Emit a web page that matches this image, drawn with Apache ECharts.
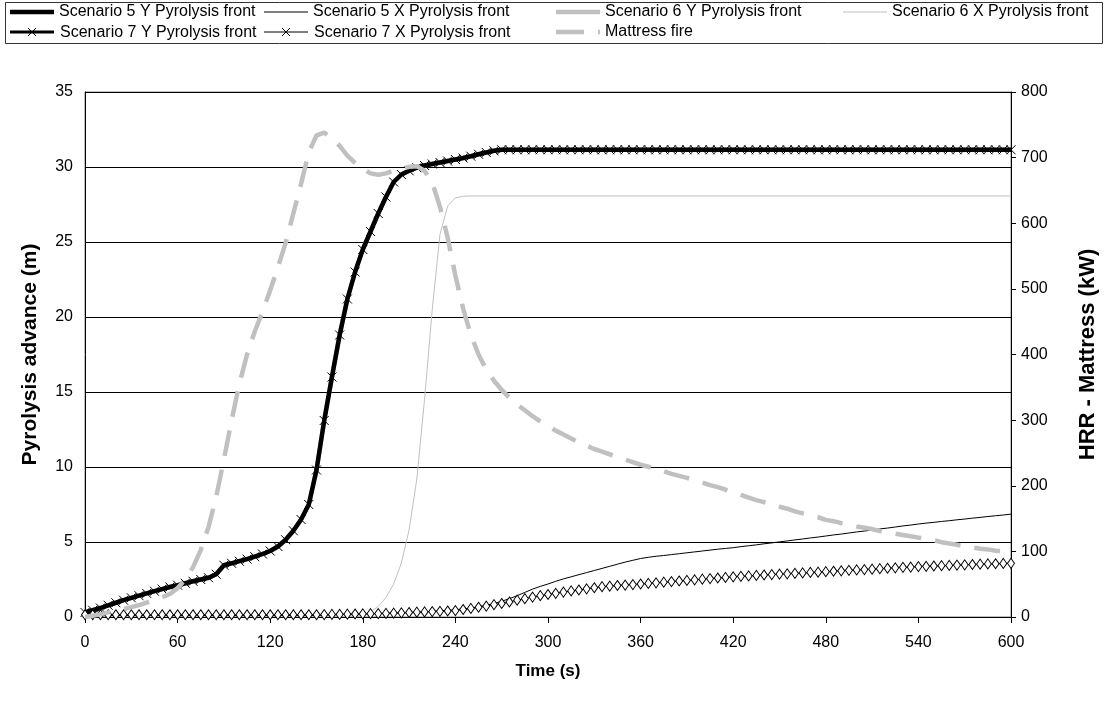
<!DOCTYPE html>
<html>
<head>
<meta charset="utf-8">
<script src="https://cdn.jsdelivr.net/npm/echarts@6/dist/echarts.min.js"></script>
<style>
  html, body { margin: 0; padding: 0; background: #fff; }
  #chart { width: 1107px; height: 702px; }
</style>
</head>
<body>
<div id="chart"></div>
<script>
// Time base: one sample every 5 s from 0 to 600 s
const time = Array.from({ length: 121 }, (_, i) => i * 5);

const xTicks = { min: 0, max: 600, step: 60 };
const leftTicks = { min: 0, max: 35, step: 5 };
const rightTicks = { min: 0, max: 800, step: 100 };

// Pyrolysis front advance (m)
const scenario5Y = [
  0.3, 0.45, 0.6, 0.78, 0.95, 1.12, 1.28, 1.42, 1.57, 1.72, 1.86, 2.0,
  2.12, 2.25, 2.38, 2.5, 2.62, 2.85, 3.45, 3.58, 3.72, 3.86, 4.02, 4.2,
  4.4, 4.7, 5.15, 5.75, 6.5, 7.5, 9.8, 13.1, 16.0, 18.8, 21.2, 23.0,
  24.5, 25.7, 26.9, 28.0, 29.0, 29.5, 29.75, 29.95, 30.1, 30.2, 30.3, 30.4,
  30.5, 30.6, 30.72, 30.85, 30.97, 31.08, 31.15, 31.15, 31.15, 31.15, 31.15, 31.15,
  31.15, 31.15, 31.15, 31.15, 31.15, 31.15, 31.15, 31.15, 31.15, 31.15, 31.15, 31.15,
  31.15, 31.15, 31.15, 31.15, 31.15, 31.15, 31.15, 31.15, 31.15, 31.15, 31.15, 31.15,
  31.15, 31.15, 31.15, 31.15, 31.15, 31.15, 31.15, 31.15, 31.15, 31.15, 31.15, 31.15,
  31.15, 31.15, 31.15, 31.15, 31.15, 31.15, 31.15, 31.15, 31.15, 31.15, 31.15, 31.15,
  31.15, 31.15, 31.15, 31.15, 31.15, 31.15, 31.15, 31.15, 31.15, 31.15, 31.15, 31.15,
  31.15
];

const scenario6Y = [
  0.3, 0.45, 0.6, 0.78, 0.95, 1.12, 1.28, 1.42, 1.57, 1.72, 1.86, 2.0,
  2.12, 2.25, 2.38, 2.5, 2.62, 2.85, 3.45, 3.58, 3.72, 3.86, 4.02, 4.2,
  4.4, 4.7, 5.15, 5.75, 6.5, 7.5, 9.8, 13.1, 16.0, 18.8, 21.2, 23.0,
  24.5, 25.7, 26.9, 28.0, 29.0, 29.5, 29.75, 29.95, 30.1, 30.2, 30.3, 30.4,
  30.5, 30.6, 30.72, 30.85, 30.97, 31.08, 31.15, 31.15, 31.15, 31.15, 31.15, 31.15,
  31.15, 31.15, 31.15, 31.15, 31.15, 31.15, 31.15, 31.15, 31.15, 31.15, 31.15, 31.15,
  31.15, 31.15, 31.15, 31.15, 31.15, 31.15, 31.15, 31.15, 31.15, 31.15, 31.15, 31.15,
  31.15, 31.15, 31.15, 31.15, 31.15, 31.15, 31.15, 31.15, 31.15, 31.15, 31.15, 31.15,
  31.15, 31.15, 31.15, 31.15, 31.15, 31.15, 31.15, 31.15, 31.15, 31.15, 31.15, 31.15,
  31.15, 31.15, 31.15, 31.15, 31.15, 31.15, 31.15, 31.15, 31.15, 31.15, 31.15, 31.15,
  31.15
];

const scenario7Y = [
  0.3, 0.45, 0.6, 0.78, 0.95, 1.12, 1.28, 1.42, 1.57, 1.72, 1.86, 2.0,
  2.12, 2.25, 2.38, 2.5, 2.62, 2.85, 3.45, 3.58, 3.72, 3.86, 4.02, 4.2,
  4.4, 4.7, 5.15, 5.75, 6.5, 7.5, 9.8, 13.1, 16.0, 18.8, 21.2, 23.0,
  24.5, 25.7, 26.9, 28.0, 29.0, 29.5, 29.75, 29.95, 30.1, 30.2, 30.3, 30.4,
  30.5, 30.6, 30.72, 30.85, 30.97, 31.08, 31.15, 31.15, 31.15, 31.15, 31.15, 31.15,
  31.15, 31.15, 31.15, 31.15, 31.15, 31.15, 31.15, 31.15, 31.15, 31.15, 31.15, 31.15,
  31.15, 31.15, 31.15, 31.15, 31.15, 31.15, 31.15, 31.15, 31.15, 31.15, 31.15, 31.15,
  31.15, 31.15, 31.15, 31.15, 31.15, 31.15, 31.15, 31.15, 31.15, 31.15, 31.15, 31.15,
  31.15, 31.15, 31.15, 31.15, 31.15, 31.15, 31.15, 31.15, 31.15, 31.15, 31.15, 31.15,
  31.15, 31.15, 31.15, 31.15, 31.15, 31.15, 31.15, 31.15, 31.15, 31.15, 31.15, 31.15,
  31.15
];

const scenario5X = [
  0.1, 0.1, 0.1, 0.1, 0.1, 0.1, 0.1, 0.1, 0.1, 0.1, 0.1, 0.1,
  0.1, 0.1, 0.1, 0.1, 0.1, 0.1, 0.1, 0.1, 0.1, 0.1, 0.1, 0.1,
  0.1, 0.1, 0.1, 0.1, 0.1, 0.1, 0.1, 0.12, 0.14, 0.16, 0.18, 0.2,
  0.21, 0.22, 0.23, 0.25, 0.26, 0.27, 0.3, 0.32, 0.35, 0.38, 0.41, 0.44,
  0.48, 0.54, 0.6, 0.68, 0.78, 0.9, 1.05, 1.22, 1.42, 1.64, 1.86, 2.04,
  2.2, 2.38, 2.54, 2.68, 2.82, 2.96, 3.1, 3.24, 3.38, 3.52, 3.66, 3.78,
  3.9, 3.98, 4.05, 4.1, 4.16, 4.22, 4.28, 4.34, 4.4, 4.46, 4.52, 4.57,
  4.62, 4.69, 4.75, 4.81, 4.88, 4.94, 5.01, 5.07, 5.14, 5.2, 5.27, 5.33,
  5.4, 5.47, 5.53, 5.6, 5.67, 5.73, 5.8, 5.87, 5.93, 6.0, 6.07, 6.13,
  6.2, 6.26, 6.31, 6.37, 6.42, 6.48, 6.53, 6.59, 6.64, 6.7, 6.75, 6.8,
  6.86
];

const scenario6X = [
  0.05, 0.05, 0.05, 0.05, 0.05, 0.05, 0.05, 0.05, 0.05, 0.05, 0.05, 0.05,
  0.05, 0.05, 0.05, 0.05, 0.05, 0.05, 0.05, 0.05, 0.05, 0.05, 0.05, 0.05,
  0.05, 0.05, 0.05, 0.05, 0.05, 0.05, 0.05, 0.05, 0.05, 0.05, 0.05, 0.08,
  0.15, 0.35, 0.7, 1.3, 2.2, 3.6, 5.8, 9.2, 14.5, 20.5, 25.5, 27.4,
  27.95, 28.05, 28.07, 28.07, 28.07, 28.07, 28.07, 28.07, 28.07, 28.07, 28.07, 28.07,
  28.07, 28.07, 28.07, 28.07, 28.07, 28.07, 28.07, 28.07, 28.07, 28.07, 28.07, 28.07,
  28.07, 28.07, 28.07, 28.07, 28.07, 28.07, 28.07, 28.07, 28.07, 28.07, 28.07, 28.07,
  28.07, 28.07, 28.07, 28.07, 28.07, 28.07, 28.07, 28.07, 28.07, 28.07, 28.07, 28.07,
  28.07, 28.07, 28.07, 28.07, 28.07, 28.07, 28.07, 28.07, 28.07, 28.07, 28.07, 28.07,
  28.07, 28.07, 28.07, 28.07, 28.07, 28.07, 28.07, 28.07, 28.07, 28.07, 28.07, 28.07,
  28.07
];

const scenario7X = [
  0.15, 0.15, 0.15, 0.15, 0.15, 0.15, 0.15, 0.15, 0.15, 0.15, 0.15, 0.15,
  0.15, 0.15, 0.15, 0.15, 0.15, 0.15, 0.15, 0.15, 0.15, 0.15, 0.15, 0.15,
  0.15, 0.15, 0.15, 0.15, 0.15, 0.15, 0.15, 0.16, 0.17, 0.18, 0.19, 0.2,
  0.21, 0.22, 0.23, 0.24, 0.26, 0.28, 0.3, 0.32, 0.34, 0.36, 0.38, 0.4,
  0.43, 0.5, 0.57, 0.65, 0.73, 0.82, 0.9, 1.0, 1.12, 1.22, 1.33, 1.42,
  1.5, 1.58, 1.66, 1.74, 1.8, 1.88, 1.95, 2.02, 2.06, 2.1, 2.13, 2.16,
  2.2, 2.24, 2.28, 2.32, 2.36, 2.4, 2.44, 2.48, 2.52, 2.56, 2.6, 2.64,
  2.68, 2.71, 2.74, 2.77, 2.8, 2.83, 2.86, 2.88, 2.91, 2.94, 2.97, 2.99,
  3.02, 3.05, 3.08, 3.11, 3.14, 3.16, 3.19, 3.22, 3.25, 3.28, 3.31, 3.33,
  3.36, 3.38, 3.4, 3.42, 3.44, 3.46, 3.48, 3.5, 3.52, 3.54, 3.55, 3.57,
  3.58
];

// Heat release rate of the mattress (kW)
const mattressHRR = [
  0, 2, 4, 7, 9, 12, 15, 18, 22, 26, 30, 35,
  44, 57, 76, 102, 137, 183, 240, 300, 355, 400, 435, 465,
  498, 533, 570, 615, 660, 708, 734, 738, 730, 718, 703, 692,
  683, 676, 674, 676, 680, 683, 686, 687, 680, 662, 625, 578,
  520, 470, 430, 400, 377, 360, 346, 334, 324, 315, 306, 298,
  291, 284, 278, 272, 266, 261, 256, 252, 248, 244, 240, 236,
  232, 229, 225, 222, 218, 215, 212, 208, 205, 201, 198, 194,
  190, 186, 182, 178, 175, 171, 168, 165, 161, 158, 155, 152,
  148, 146, 143, 141, 138, 136, 134, 131, 129, 127, 125, 123,
  121, 119, 117, 114, 112, 110, 108, 106, 104, 103, 101, 100,
  99
];

const names = {
  s5Y: 'Scenario 5 Y Pyrolysis front',
  s5X: 'Scenario 5 X Pyrolysis front',
  s6Y: 'Scenario 6 Y Pyrolysis front',
  s6X: 'Scenario 6 X Pyrolysis front',
  s7Y: 'Scenario 7 Y Pyrolysis front',
  s7X: 'Scenario 7 X Pyrolysis front',
  fire: 'Mattress fire'
};
const axisNames = { x: 'Time (s)', left: 'Pyrolysis advance (m)', right: 'HRR - Mattress (kW)' };

const FONT = '"Liberation Sans", Arial, sans-serif';
const GREY = '#c0c0c0';
const CROSS = 'path://M0,0L10,10M10,0L0,10';

const pairs = (vals) => time.map((t, i) => [t, vals[i]]);

// Legend: text from legend components, keys drawn as small line samples
const KEY_W = 44;
const ROW1 = 12, ROW2 = 32;
const legendLayout = [
  { name: names.s5Y, x: 10, y: ROW1, color: '#000', width: 4.5 },
  { name: names.s5X, x: 264, y: ROW1, color: '#000', width: 1 },
  { name: names.s6Y, x: 556, y: ROW1, color: GREY, width: 4.5 },
  { name: names.s6X, x: 843, y: ROW1, color: GREY, width: 1 },
  { name: names.s7Y, x: 10, y: ROW2, color: '#000', width: 3, cross: true },
  { name: names.s7X, x: 264, y: ROW2, color: '#000', width: 1, cross: true },
  { name: names.fire, x: 556, y: ROW2, color: GREY, width: 4.5, dash: [28, 14] }
];

const legendText = { color: '#000', fontSize: 16, fontFamily: FONT };
const legends = legendLayout.map((it) => ({
  left: it.x, top: it.y - 9, orient: 'horizontal', padding: 0,
  itemWidth: KEY_W, itemHeight: 18, itemGap: 0, icon: 'rect',
  itemStyle: { opacity: 0 }, lineStyle: { opacity: 0 },
  selectedMode: false, textStyle: legendText,
  data: [it.name]
}));

const keyGraphics = [];
legendLayout.forEach((it) => {
  keyGraphics.push({
    type: 'line', silent: true, z: 10,
    shape: { x1: it.x, y1: it.y, x2: it.x + KEY_W, y2: it.y },
    style: { stroke: it.color, lineWidth: it.width, lineDash: it.dash || null }
  });
  if (it.cross) {
    const cx = it.x + KEY_W / 2, cy = it.y, h = 4;
    keyGraphics.push({
      type: 'polyline', silent: true, z: 10,
      shape: { points: [[cx - h, cy - h], [cx + h, cy + h]] },
      style: { stroke: '#000', lineWidth: 1, fill: null }
    }, {
      type: 'polyline', silent: true, z: 10,
      shape: { points: [[cx + h, cy - h], [cx - h, cy + h]] },
      style: { stroke: '#000', lineWidth: 1, fill: null }
    });
  }
});

const titleStyle = (size) => ({ fontWeight: 'bold', fontSize: size, color: '#000', fontFamily: FONT });
const tickLabel = (margin) => ({ color: '#000', fontSize: 16, fontFamily: FONT, margin: margin });

const chart = echarts.init(document.getElementById('chart'), null, { renderer: 'canvas' });

chart.setOption({
  animation: false,
  backgroundColor: '#fff',
  textStyle: { fontFamily: FONT, color: '#000' },
  graphic: [{
    type: 'rect', left: 5, top: 2, silent: true, z: -1,
    shape: { width: 1097, height: 41 },
    style: { fill: '#fff', stroke: '#333', lineWidth: 1 }
  }].concat(keyGraphics),
  legend: legends,
  grid: {
    left: 85, right: 94, top: 92, bottom: 85,
    show: true, borderColor: '#808080', borderWidth: 1, backgroundColor: 'transparent'
  },
  xAxis: {
    type: 'value', min: xTicks.min, max: xTicks.max, interval: xTicks.step,
    name: axisNames.x, nameLocation: 'middle', nameGap: 46,
    nameTextStyle: titleStyle(17),
    axisLine: { show: true, onZero: false, lineStyle: { color: '#000', width: 1 } },
    axisTick: { show: true, inside: false, length: 6, lineStyle: { color: '#000' } },
    axisLabel: tickLabel(18),
    splitLine: { show: false }
  },
  yAxis: [{
    type: 'value', position: 'left', min: leftTicks.min, max: leftTicks.max, interval: leftTicks.step,
    name: axisNames.left, nameLocation: 'middle', nameGap: 44, nameRotate: 90,
    nameTextStyle: titleStyle(21),
    axisLine: { show: true, lineStyle: { color: '#000', width: 1 } },
    axisTick: { show: false },
    axisLabel: tickLabel(12),
    splitLine: { show: true, lineStyle: { color: '#000', width: 1 } }
  }, {
    type: 'value', position: 'right', min: rightTicks.min, max: rightTicks.max, interval: rightTicks.step,
    name: axisNames.right, nameLocation: 'middle', nameGap: 66, nameRotate: 90,
    nameTextStyle: titleStyle(22),
    axisLine: { show: true, lineStyle: { color: '#000', width: 1 } },
    axisTick: { show: true, inside: false, length: 5, lineStyle: { color: '#000' } },
    axisLabel: tickLabel(10),
    splitLine: { show: false }
  }],
  series: [
    {
      name: names.s6Y, type: 'line', yAxisIndex: 0, data: pairs(scenario6Y),
      symbol: 'none', lineStyle: { color: GREY, width: 4.5 }, itemStyle: { color: GREY }, z: 2
    },
    {
      name: names.s6X, type: 'line', yAxisIndex: 0, data: pairs(scenario6X),
      symbol: 'none', lineStyle: { color: GREY, width: 1 }, itemStyle: { color: GREY }, z: 3
    },
    {
      name: names.s5Y, type: 'line', yAxisIndex: 0, data: pairs(scenario5Y),
      symbol: 'none', lineStyle: { color: '#000', width: 4.5 }, itemStyle: { color: '#000' }, z: 4
    },
    {
      name: names.s5X, type: 'line', yAxisIndex: 0, data: pairs(scenario5X),
      symbol: 'none', lineStyle: { color: '#000', width: 1 }, itemStyle: { color: '#000' }, z: 4
    },
    {
      name: names.s7Y, type: 'line', yAxisIndex: 0, data: pairs(scenario7Y),
      symbol: CROSS, symbolSize: 9,
      lineStyle: { color: '#000', width: 2 },
      itemStyle: { color: 'rgba(0,0,0,0)', borderColor: '#000', borderWidth: 1 }, z: 5
    },
    {
      name: names.s7X, type: 'line', yAxisIndex: 0, data: pairs(scenario7X),
      symbol: 'diamond', symbolSize: [7, 10],
      lineStyle: { color: '#000', width: 1 },
      itemStyle: { color: '#fff', borderColor: '#000', borderWidth: 1 }, z: 5
    },
    {
      name: names.fire, type: 'line', yAxisIndex: 1, data: pairs(mattressHRR),
      symbol: 'none',
      lineStyle: { color: GREY, width: 4.5, type: [26, 14] },
      itemStyle: { color: GREY }, z: 6
    }
  ]
});
</script>
</body>
</html>
